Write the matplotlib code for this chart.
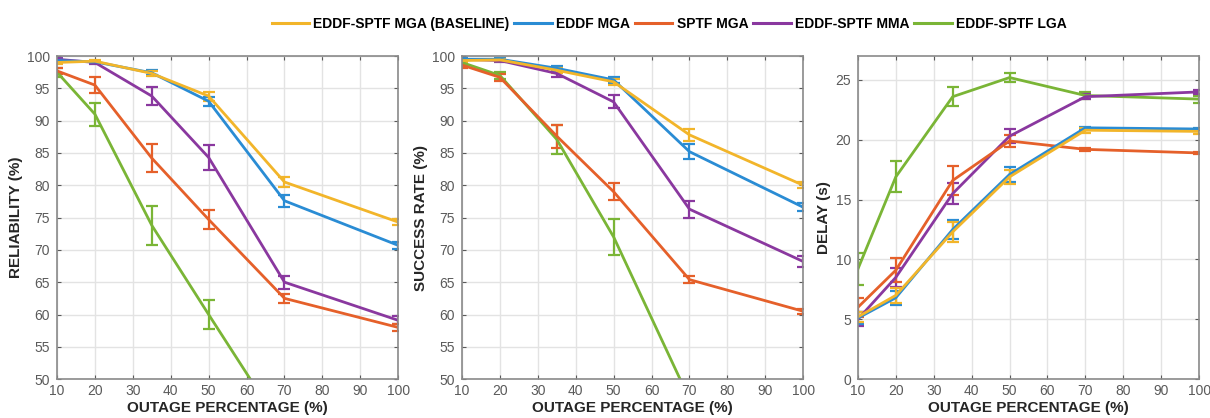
import matplotlib

matplotlib.use("Agg")
import matplotlib.pyplot as plt
from matplotlib.lines import Line2D

plt.rcParams["font.family"] = ["Liberation Sans", "DejaVu Sans"]

outage = [10, 20, 35, 50, 70, 100]
series = ["EDDF-SPTF MGA (BASELINE)", "EDDF MGA", "SPTF MGA", "EDDF-SPTF MMA", "EDDF-SPTF LGA"]
colors = ["#F2B52A", "#2A8CD4", "#E5602A", "#8A389F", "#7AB536"]

# reliability (%)
rel_base = [99.0, 99.2, 97.3, 93.8, 80.5, 74.3]
rel_eddf = [99.3, 99.1, 97.4, 93.0, 77.6, 70.7]
rel_sptf = [97.7, 95.5, 84.2, 74.7, 62.5, 58.0]
rel_mma = [99.5, 99.0, 93.8, 84.3, 65.0, 59.1]
rel_lga = [97.5, 91.0, 73.8, 60.0, 41.8, 30.0]
rel_err_base = [0.3, 0.2, 0.4, 0.7, 0.8, 0.5]
rel_err_eddf = [0.3, 0.2, 0.4, 0.7, 0.9, 0.5]
rel_err_sptf = [0.5, 1.3, 2.2, 1.5, 0.7, 0.5]
rel_err_mma = [0.2, 0.2, 1.4, 2.0, 1.0, 0.6]
rel_err_lga = [0.7, 1.8, 3.0, 2.2, 0.0, 0.0]

# success rate (%)
suc_base = [99.3, 99.4, 97.8, 96.0, 87.8, 80.0]
suc_eddf = [99.5, 99.5, 98.1, 96.3, 85.2, 76.6]
suc_sptf = [98.6, 96.7, 87.6, 79.0, 65.4, 60.5]
suc_mma = [99.5, 99.3, 97.3, 92.9, 76.3, 68.2]
suc_lga = [99.0, 97.0, 87.1, 72.0, 46.9, 35.0]
suc_err_base = [0.2, 0.2, 0.4, 0.5, 0.9, 0.5]
suc_err_eddf = [0.2, 0.2, 0.4, 0.5, 1.2, 0.6]
suc_err_sptf = [0.4, 0.5, 1.8, 1.3, 0.6, 0.4]
suc_err_mma = [0.2, 0.3, 0.5, 1.0, 1.3, 0.8]
suc_err_lga = [0.4, 0.6, 2.3, 2.8, 0.0, 0.0]

# delay (s)
del_base = [5.2, 7.0, 12.3, 16.9, 20.8, 20.7]
del_eddf = [5.1, 6.8, 12.5, 17.1, 21.0, 20.9]
del_sptf = [6.0, 9.1, 16.6, 19.9, 19.2, 18.9]
del_mma = [5.0, 8.5, 15.5, 20.3, 23.6, 24.0]
del_lga = [9.2, 16.9, 23.6, 25.2, 23.7, 23.4]
del_err_base = [0.4, 0.6, 0.8, 0.6, 0.2, 0.2]
del_err_eddf = [0.5, 0.6, 0.8, 0.6, 0.1, 0.1]
del_err_sptf = [0.8, 1.0, 1.2, 0.5, 0.1, 0.1]
del_err_mma = [0.6, 0.8, 0.9, 0.6, 0.2, 0.2]
del_err_lga = [1.3, 1.3, 0.8, 0.4, 0.3, 0.3]

panels = [
    ("RELIABILITY (%)", [rel_base, rel_eddf, rel_sptf, rel_mma, rel_lga],
     [rel_err_base, rel_err_eddf, rel_err_sptf, rel_err_mma, rel_err_lga], (50, 100), range(50, 101, 5)),
    ("SUCCESS RATE (%)", [suc_base, suc_eddf, suc_sptf, suc_mma, suc_lga],
     [suc_err_base, suc_err_eddf, suc_err_sptf, suc_err_mma, suc_err_lga], (50, 100), range(50, 101, 5)),
    ("DELAY (s)", [del_base, del_eddf, del_sptf, del_mma, del_lga],
     [del_err_base, del_err_eddf, del_err_sptf, del_err_mma, del_err_lga], (0, 27), range(0, 26, 5)),
]

fig = plt.figure(figsize=(12.1, 4.18), dpi=100)
lefts = [0.0471, 0.3818, 0.709]
GRID, TICK, INK = "#E3E3E3", "#5A5A5A", "#262626"

for left, (ylabel, ys, errs, ylim, yticks) in zip(lefts, panels):
    ax = fig.add_axes([left, 0.093, 0.282, 0.773])
    # draw in reverse so the baseline sits on top
    for y, e, c in reversed(list(zip(ys, errs, colors))):
        ax.errorbar(outage, y, yerr=e, color=c, lw=2, capsize=4, capthick=1.6,
                    elinewidth=1.6)
    ax.set_xlim(10, 100)
    ax.set_ylim(*ylim)
    ax.set_xticks(range(10, 101, 10))
    ax.set_yticks(list(yticks))
    ax.grid(True, color=GRID, lw=1)
    ax.set_axisbelow(True)
    ax.tick_params(direction="in", length=3, labelsize=10, colors=TICK, top=True, right=True)
    ax.tick_params(axis="y", pad=5)
    for s in ax.spines.values():
        s.set_color("#8A8A8A")
        s.set_linewidth(1.2)
    ax.set_xlabel("OUTAGE PERCENTAGE (%)", fontsize=11, fontweight="bold", color=INK, labelpad=2)
    ax.set_ylabel(ylabel, fontsize=11, fontweight="bold", color=INK, labelpad=3)

handles = [Line2D([], [], color=c, lw=2.2) for c in colors]
fig.legend(handles, series, loc="upper center", bbox_to_anchor=(0.553, 0.99), ncol=5,
           frameon=False, handlelength=2.7, handletextpad=0.3, columnspacing=0.35,
           prop={"weight": "bold", "size": 10})

fig.savefig("out.png", dpi=100, facecolor="white")
